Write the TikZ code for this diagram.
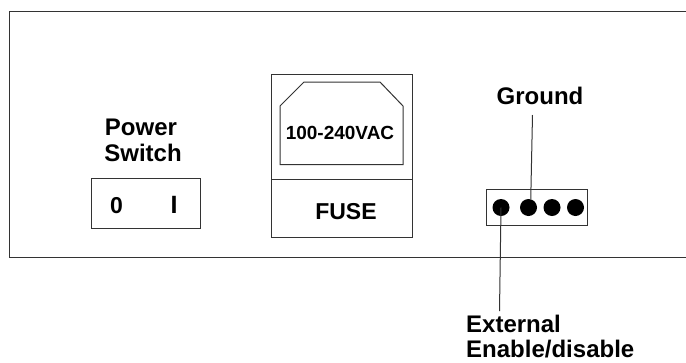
\documentclass[tikz,border=0pt]{standalone}
\usepackage{fontspec}
\setmainfont{Liberation Sans}
\newcommand{\lbl}[1]{\fontsize{#1}{#1}\selectfont\bfseries}
\tikzset{
  x=1pt,y=-1pt,
  edge/.style={draw=black!80,line width=1pt},
  box/.style={draw=black!80,line width=1pt,fill=white},
  pin/.style={circle,fill=black,draw=none,minimum size=17pt,inner sep=0pt},
  txt/.style={inner sep=0pt,text=black,align=center,anchor=base},
  txtl/.style={inner sep=0pt,text=black,anchor=base west},
}
\begin{document}
\begin{tikzpicture}
\useasboundingbox (0,0) rectangle (686,362);
\draw[edge] (686,11) -- (9,11) -- (9,257) -- (686,257);
% power switch
\node[txt,font=\lbl{24}] (pw) at (141,135) {Power};
\node[txt,font=\lbl{24}] (sw) at (143,161) {Switch};
\draw[box] (91,178) rectangle (200.5,228);
\node[txt,font=\lbl{23}] (zero) at (116.5,213.5) {0};
\node[txt,font=\lbl{25}] (one) at (174,213.5) {I};
% inlet and fuse
\draw[box] (271.5,74) rectangle (412,237);
\draw[edge] (271.5,179) -- (412,179);
\draw[box] (280,106) -- (304,82) -- (380,82) -- (403,106) -- (403,164.5) -- (280,164.5) -- cycle;
\node[txt,font=\lbl{19}] (vac) at (340,139.5) {100-240VAC};
\node[txt,font=\lbl{23}] (fuse) at (346,219) {FUSE};
% connector
\draw[box] (486,189) rectangle (587,225);
\node[pin] (p1) at (501,207.5) {};
\node[pin] (p2) at (528.5,207.5) {};
\node[pin] (p3) at (552,207.5) {};
\node[pin] (p4) at (575.5,207.5) {};
\node[txt,font=\lbl{24}] (gnd) at (540,104) {Ground};
\coordinate (gtop) at (532.5,115);
\draw[edge] (gtop) -- (p2.75);
\coordinate (ebot) at (499.5,311);
\draw[edge] (p1.center) -- (ebot);
\node[txtl,font=\lbl{24}] (ext) at (466,332.5) {External};
\node[txtl,font=\lbl{24}] (ena) at (466,357) {Enable/disable};
\end{tikzpicture}
\end{document}
